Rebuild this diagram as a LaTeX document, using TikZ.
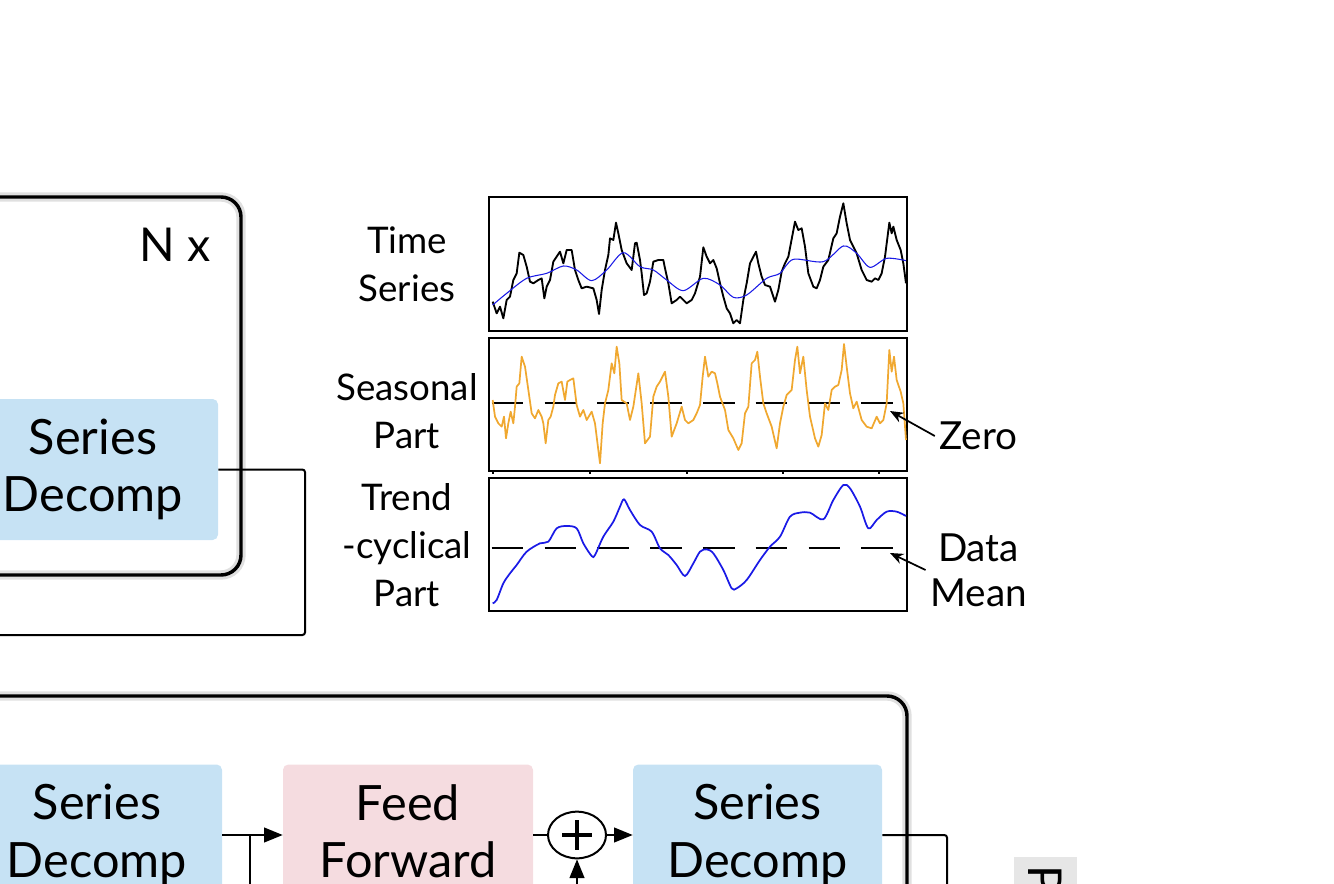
\documentclass[tikz,border=0pt]{standalone}
\usepackage{fontspec}
\setmainfont{Lato}
\usetikzlibrary{arrows.meta,shapes.geometric}
\definecolor{decompblue}{HTML}{C6E2F4}
\definecolor{ffpink}{HTML}{F5DCE0}
\definecolor{seasorange}{HTML}{F0A830}
\definecolor{trendblue}{HTML}{1A1AE6}
\definecolor{projgray}{HTML}{E6E6E6}
\tikzset{
  blockbox/.style={rounded corners=4pt, minimum width=187.5pt, minimum height=105.75pt, align=center, inner sep=0pt, font=\fontsize{36.5}{43}\selectfont},
  layerbox/.style={line width=2.6pt, rounded corners=15pt},
  layershadow/.style={line width=7pt, color=black!12, rounded corners=15pt},
  conn/.style={line width=1.5pt, rounded corners=2pt},
  arr/.style={line width=1.5pt, -{Triangle[length=14pt,width=11pt]}},
  frame/.style={draw, line width=1.5pt, minimum width=313.5pt, minimum height=99.75pt, inner sep=0pt},
  lab/.style={align=center, font=\fontsize{27.5}{36}\selectfont},
  note/.style={align=center, font=\fontsize{29}{34}\selectfont},
  pointer/.style={line width=1.3pt, -{Stealth[length=10pt,width=8pt]}},
  meanline/.style={line width=1.3pt, dash pattern=on 23.8pt off 15.8pt},
}
\begin{document}
\begin{tikzpicture}[x=0.75pt, y=-0.75pt]
			\useasboundingbox (0,0) rectangle (1334,884);
			\clip (0,0) rectangle (1334,884);
			
			%%%%% ENCODER %%%%%
			\draw[layershadow] (-60,197) rectangle (241,575);
			\draw[layerbox] (-60,197) rectangle (241,575);
			\node[font=\fontsize{35}{43}\selectfont] (nx) at (175,245) {N x};
			\node[blockbox, fill=decompblue] (sdenc) at (93,469.5) {Series\\Decomp};
			\coordinate (encturn) at (305,635);
			\coordinate (encout) at (-60,635);
			\draw[conn] (sdenc.east) -| (encturn) -- (encout);
			
			%%%%% PLOTS %%%%%
			\node[frame] (tsplot) at (698,264) {};
			\node[frame] (spplot) at (698,404) {};
			\node[frame] (tpplot) at (698,544.5) {};
			\foreach \tx in {493,590,687,783,879}
				\draw[line width=0.8pt] (\tx,470) -- (\tx,473.5);
			
			\node[lab] (tslab) at (407,264.5) {Time\\Series};
			\node[lab] (splab) at (407,411.5) {Seasonal\\Part};
			\node[lab] (tplab) at (407,545) {Trend\\-cyclical\\Part};
			
			\draw[meanline] (491.7,403) -- (894,403);
			\draw[meanline] (491.7,548) -- (894,548);
			
			\begin{scope}[shift={(480,190)}, scale=1/3]
				% time series
				\draw[line width=1.4pt, line join=round] plot coordinates {(38,335) (50,370) (60,350) (70,385) (80,330) (90,320) (100,270) (110,250) (118,188) (130,195) (140,230) (150,275) (160,280) (175,270) (185,265) (193,325) (200,290) (210,270) (220,215) (240,185) (250,220) (260,180) (275,180) (285,240) (295,270) (305,295) (320,290) (340,295) (350,330) (357,372) (365,300) (375,240) (385,195) (390,145) (400,150) (408,98) (415,130) (425,180) (440,220) (455,240) (465,160) (470,158) (480,210) (485,250) (492,315) (500,310) (510,275) (520,215) (535,210) (550,210) (555,235) (565,280) (575,340) (590,330) (600,320) (610,330) (620,340) (635,330) (645,310) (660,260) (670,172) (680,200) (690,220) (700,210) (710,235) (720,280) (730,320) (740,355) (750,370) (760,400) (770,390) (780,400) (790,330) (800,280) (810,220) (828,185) (835,220) (845,260) (855,285) (870,290) (885,335) (895,300) (905,245) (915,220) (925,200) (945,95) (955,120) (965,115) (975,170) (985,250) (1000,290) (1010,295) (1020,270) (1030,230) (1045,210) (1060,145) (1070,130) (1080,80) (1090,40) (1100,100) (1110,150) (1130,190) (1145,240) (1160,270) (1175,275) (1185,265) (1195,270) (1205,250) (1215,200) (1228,98) (1235,130) (1240,110) (1250,150) (1262,180) (1270,220) (1278,280)};
				\draw[trendblue, line width=0.8pt] plot[smooth] coordinates {(38,345) (80,310) (140,265) (200,250) (250,228) (290,240) (335,272) (380,240) (430,188) (480,230) (520,240) (560,270) (610,302) (670,265) (720,285) (760,322) (800,315) (860,265) (900,250) (940,208) (1030,215) (1090,168) (1130,190) (1170,232) (1220,205) (1278,212)};
				% seasonal
				\draw[seasorange, line width=1.3pt, line join=round] plot coordinates {(38,630) (45,680) (55,700) (65,710) (72,680) (78,745) (85,700) (92,665) (100,700) (105,650) (110,590) (118,580) (125,500) (135,530) (145,600) (155,670) (165,685) (175,660) (185,680) (190,700) (197,760) (205,690) (212,680) (220,650) (225,615) (235,580) (245,575) (255,630) (262,575) (270,570) (280,565) (290,645) (300,680) (310,660) (320,690) (335,665) (345,700) (350,740) (360,820) (368,700) (375,640) (385,600) (395,520) (403,550) (410,470) (418,520) (425,630) (440,640) (450,690) (460,650) (475,550) (485,640) (495,760) (510,740) (520,620) (530,590) (540,575) (555,545) (565,620) (575,740) (590,700) (605,650) (615,690) (625,700) (640,690) (650,670) (660,645) (668,560) (675,500) (685,560) (695,545) (705,550) (712,580) (720,620) (735,660) (745,720) (760,745) (775,780) (785,760) (795,670) (805,650) (815,520) (825,510) (832,485) (840,560) (850,640) (860,670) (875,710) (890,775) (900,700) (910,650) (920,615) (935,600) (945,510) (952,470) (960,550) (970,500) (980,600) (990,680) (1005,745) (1015,770) (1025,735) (1035,640) (1045,660) (1055,600) (1065,590) (1075,585) (1085,540) (1092,462) (1100,530) (1110,610) (1120,655) (1130,635) (1145,690) (1160,710) (1175,715) (1190,680) (1200,700) (1210,690) (1220,640) (1228,480) (1235,545) (1242,500) (1250,570) (1262,605) (1270,640) (1278,750)};
				% trend-cyclical
				\draw[trendblue, line width=1.3pt] plot[smooth] coordinates {(38,1240) (50,1230) (70,1180) (90,1150) (110,1125) (140,1085) (180,1060) (205,1055) (230,1015) (260,1008) (290,1015) (310,1060) (335,1098) (345,1095) (370,1040) (400,995) (420,950) (432,928) (450,960) (480,1005) (515,1025) (540,1075) (565,1095) (590,1125) (615,1158) (640,1120) (660,1085) (680,1078) (700,1090) (730,1140) (755,1195) (770,1195) (800,1170) (840,1110) (870,1070) (900,1040) (930,980) (960,968) (990,968) (1030,988) (1060,930) (1090,885) (1110,895) (1140,950) (1165,1015) (1190,990) (1220,965) (1250,965) (1278,978)};
			\end{scope}
			
			\node[note] (zero) at (978.5,436) {Zero};
			\node[note] (datamean) at (978.5,570) {Data\\Mean};
			\coordinate (zerotip) at (890,411);
			\coordinate (meantip) at (890,553);
			\draw[pointer] (zero.west) -- (zerotip);
			\draw[pointer] (datamean.west) -- (meantip);
			
			%%%%% DECODER %%%%%
			\draw[layershadow] (-60,696) rectangle (907,960);
			\draw[layerbox] (-60,696) rectangle (907,960);
			\node[blockbox, fill=decompblue] (sddec) at (97,835) {Series\\Decomp};
			\node[blockbox, fill=ffpink] (ffwd) at (408,835) {Feed\\Forward\vphantom{p}};
			\node[blockbox, fill=decompblue, minimum width=186.75pt] (sdout) at (757.5,835) {Series\\Decomp};
			\node[draw, ellipse, line width=1.5pt, minimum width=43.5pt, minimum height=35pt, inner sep=0pt] (plus) at (577,835) {};
			\draw[line width=2.4pt] ([xshift=-11pt]plus.center) -- ([xshift=11pt]plus.center);
			\draw[line width=2.4pt] ([yshift=-11pt]plus.center) -- ([yshift=11pt]plus.center);
			
			\draw[arr] (sddec.east) -- (ffwd.west);
			\coordinate (resbranch) at (250,835);
			\coordinate (resdown) at (250,900);
			\draw[conn] (resbranch) -- (resdown);
			\draw[conn] (ffwd.east) -- (plus.west);
			\draw[arr] (plus.east) -- (sdout.west);
			\coordinate (plusin) at (577,900);
			\draw[arr] (plusin) -- (plus.south);
			\coordinate (outturn) at (947,900);
			\draw[conn] (sdout.east) -| (outturn);
			
			\node[rotate=-90, anchor=west, fill=projgray, minimum height=47.25pt, text width=150pt, align=left, inner xsep=6pt, font=\fontsize{35}{43}\selectfont] (proj) at (1045.5,857) {P};
			
\end{tikzpicture}
\end{document}
